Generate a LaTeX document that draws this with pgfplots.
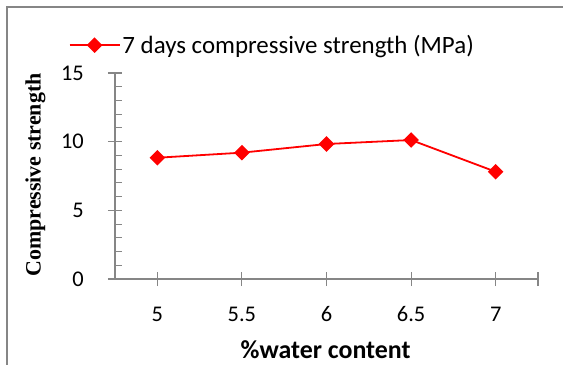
\documentclass[border=0pt]{standalone}
\usepackage{pgfplots}
\pgfplotsset{compat=1.18}
\usepackage{fontspec}
\setmainfont{Carlito}
\newfontfamily\timesfont{Liberation Serif}
\definecolor{axgray}{HTML}{868686}
\begin{document}
\begin{tikzpicture}
\useasboundingbox (0,0) rectangle (563bp,-365bp);
\draw[axgray, line width=1.3bp] (7bp,-365bp) -- (7bp,-7bp) -- (563bp,-7bp);
\begin{axis}[
  at={(115bp,-279bp)}, anchor=south west,
  scale only axis, width=423bp, height=206bp,
  xmin=-0.5, xmax=4.5, ymin=0, ymax=15,
  axis x line*=bottom, axis y line*=left,
  axis line style={axgray, line width=1.3bp, -},
  xtick={0,1,2,3,4}, xticklabels={5,5.5,6,6.5,7},
  extra x ticks={4.5}, extra x tick labels={},
  ytick={0,5,10,15}, minor y tick num=4,
  tick align=center, major tick length=14bp, minor tick length=7bp,
  tick style={axgray, line width=1.1bp},
  minor y tick style={xshift=3.5bp},
  /pgf/number format/assume math mode=true,
  tick label style={font=\fontsize{22.5}{26}\selectfont},
  yticklabel style={xshift=-24bp, anchor=east, inner sep=0pt},
  xticklabel style={yshift=-28bp, anchor=center, inner sep=0pt},
  xlabel={\textbf{\%water content}},
  xlabel style={font=\fontsize{26}{30}\selectfont, at={(axis description cs:0.498,-0.345)}, anchor=center},
  ylabel={\timesfont\bfseries Compressive strength},
  ylabel style={font=\fontsize{22}{26}\selectfont, at={(axis description cs:-0.188,0.505)}, anchor=center},
  legend style={at={(axis description cs:-0.11,1.135)}, anchor=west, draw=none, fill=none,
    font=\fontsize{25}{29}\selectfont, inner sep=0pt},
  legend cell align=left,
  legend image code/.code={
    \draw[#1, mark=none] (0bp,0bp) -- (50bp,0bp);
    \draw[#1, only marks] plot coordinates {(25bp,0bp)};
  },
  clip=false,
]
\addplot[red, line width=1.8bp, mark=square*, mark size=4.6bp, mark options={rotate=45, fill=red, draw=red}]
  coordinates {(0,8.83) (1,9.2) (2,9.83) (3,10.12) (4,7.81)};
\addlegendentry{7 days compressive strength (MPa)}
\end{axis}
\end{tikzpicture}
\end{document}
